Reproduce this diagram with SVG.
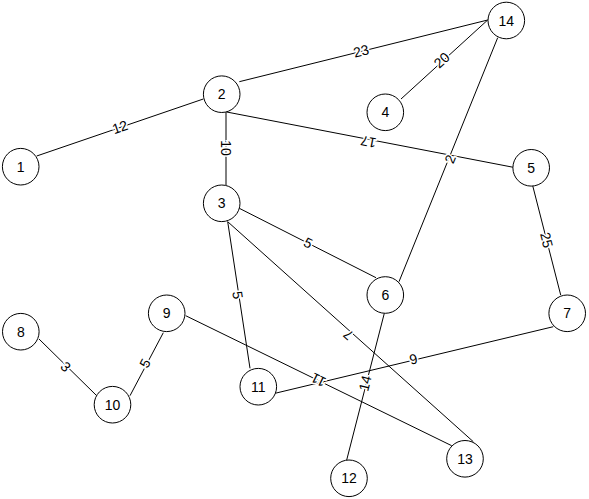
<svg xmlns="http://www.w3.org/2000/svg" width="589" height="499" viewBox="0 0 589 499">
<style>
.n circle{fill:#fff;stroke:#000;stroke-width:1}
.n text{font-family:"Liberation Sans",Arial,sans-serif;font-size:14px;text-anchor:middle;fill:#000}
.e line{stroke:#000;stroke-width:1}
.e text{font-family:"Liberation Sans",Arial,sans-serif;font-size:14px;text-anchor:middle;dominant-baseline:central;fill:#000;stroke:#fff;stroke-width:3;paint-order:stroke}
</style>
<rect width="589" height="499" fill="#fff"/>
<g id="edges" class="e">
<line x1="36.7" y1="156" x2="203.3" y2="99"/>
<line x1="239.3" y1="81.7" x2="487.7" y2="20"/>
<line x1="401" y1="99" x2="487.7" y2="20"/>
<line x1="226.7" y1="112" x2="513.3" y2="167.3"/>
<line x1="226" y1="111.7" x2="226" y2="185"/>
<line x1="497.7" y1="37.7" x2="399" y2="281.7"/>
<line x1="239.3" y1="208.3" x2="376" y2="277.7"/>
<line x1="227.7" y1="221.7" x2="250" y2="368.3"/>
<line x1="227.7" y1="221.7" x2="473.3" y2="441.7"/>
<line x1="532.7" y1="185.7" x2="560.7" y2="295"/>
<line x1="384.3" y1="313.3" x2="346.7" y2="460"/>
<line x1="553.3" y1="326.7" x2="275" y2="393.3"/>
<line x1="185.7" y1="315.7" x2="451.7" y2="445.7"/>
<line x1="39" y1="339" x2="96.7" y2="395.7"/>
<line x1="163.3" y1="332.7" x2="130" y2="395.7"/>
<text transform="translate(120,127) rotate(-18.9)">12</text>
<text transform="translate(361,51) rotate(-13.9)">23</text>
<text transform="translate(441.7,60) rotate(-42.3)">20</text>
<text transform="translate(368.3,142) rotate(190.9)">17</text>
<text transform="translate(226,148) rotate(90)">10</text>
<text transform="translate(450,159) rotate(-68)">2</text>
<text transform="translate(308.3,242.7) rotate(26.9)">5</text>
<text transform="translate(237.7,295) rotate(81.4)">5</text>
<text transform="translate(348.3,335) rotate(221.8)">7</text>
<text transform="translate(546.7,240) rotate(75.6)">25</text>
<text transform="translate(365,383.3) rotate(-75.6)">14</text>
<text transform="translate(413.3,359) rotate(-13.5)">9</text>
<text transform="translate(318.3,380) rotate(206)">11</text>
<text transform="translate(65.7,366.7) rotate(44.5)">3</text>
<text transform="translate(145,363.3) rotate(-62)">5</text>
</g>
<g id="node1" class="n"><circle cx="20.7" cy="166.7" r="18.3"/><text x="20.7" y="171.7">1</text></g>
<g id="node2" class="n"><circle cx="221.7" cy="94.2" r="18.3"/><text x="221.7" y="99.2">2</text></g>
<g id="node3" class="n"><circle cx="221.7" cy="203.3" r="18.3"/><text x="221.7" y="208.3">3</text></g>
<g id="node4" class="n"><circle cx="385.3" cy="112.3" r="18.3"/><text x="385.3" y="117.3">4</text></g>
<g id="node5" class="n"><circle cx="531.2" cy="167.8" r="18.3"/><text x="531.2" y="172.8">5</text></g>
<g id="node6" class="n"><circle cx="385.3" cy="295" r="18.3"/><text x="385.3" y="300">6</text></g>
<g id="node7" class="n"><circle cx="567.2" cy="313.3" r="18.3"/><text x="567.2" y="318.3">7</text></g>
<g id="node8" class="n"><circle cx="20.8" cy="331.7" r="18.3"/><text x="20.8" y="336.7">8</text></g>
<g id="node9" class="n"><circle cx="166.7" cy="313.3" r="18.3"/><text x="166.7" y="318.3">9</text></g>
<g id="node10" class="n"><circle cx="112.5" cy="404.7" r="18.3"/><text x="112.5" y="409.7">10</text></g>
<g id="node11" class="n"><circle cx="258.3" cy="386.7" r="18.3"/><text x="258.3" y="391.7">11</text></g>
<g id="node12" class="n"><circle cx="349" cy="478.3" r="18.3"/><text x="349" y="483.3">12</text></g>
<g id="node13" class="n"><circle cx="465" cy="458.8" r="18.3"/><text x="465" y="463.8">13</text></g>
<g id="node14" class="n"><circle cx="506.3" cy="20.5" r="18.3"/><text x="506.3" y="25.5">14</text></g>
</svg>
